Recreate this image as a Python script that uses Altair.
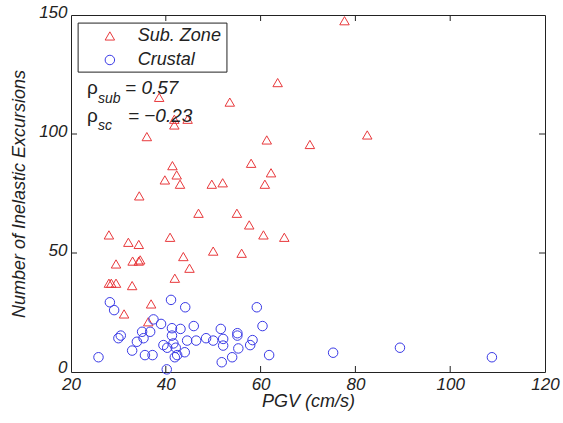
import altair as alt
import pandas as pd

# ---- data ----
sub_pgv = [77.7, 63.6, 38.6, 53.5, 41.8, 41.8, 44.6, 36.0, 61.3, 70.4, 82.5,
           41.4, 58.0, 42.3, 62.2, 39.8, 43.0, 49.7, 52.0, 60.9, 34.4,
           46.9, 55.0, 57.6, 60.6, 65.0, 28.0, 32.1, 34.3, 40.9, 50.0, 56.0,
           29.5, 33.0, 34.6, 34.3, 43.7, 45.0, 41.9, 28.0, 28.5, 29.5, 32.9,
           36.9, 31.2, 36.3]
sub_n = [147.6, 121.6, 115.4, 113.4, 106.2, 103.8, 106.2, 98.9, 97.5, 95.6, 99.6,
         86.7, 87.7, 82.8, 83.7, 80.7, 78.9, 78.9, 79.5, 78.9, 74.0,
         66.7, 66.7, 61.8, 57.6, 56.6, 57.6, 54.5, 53.6, 56.6, 50.8, 49.9,
         45.4, 46.6, 47.1, 46.6, 48.5, 43.6, 39.4, 37.3, 37.3, 37.3, 36.3,
         28.6, 24.4, 21.1]

cru_pgv = [28.2, 29.1, 41.1, 44.1, 59.2, 37.4, 39.0, 36.7, 35.0, 41.3, 43.1,
           45.9, 51.6, 60.4, 41.3, 30.5, 30.0, 33.9, 35.3, 44.5, 46.4, 48.5,
           50.0, 52.1, 52.1, 55.1, 55.1, 58.3, 57.8, 41.6, 39.5, 40.3, 42.1,
           44.0, 42.4, 41.9, 32.9, 35.6, 37.2, 25.8, 55.3, 54.0, 51.8, 61.8,
           40.2, 75.3, 89.4, 108.8]
cru_n = [29.3, 26.0, 30.3, 27.2, 27.2, 22.1, 20.2, 16.9, 16.9, 18.4, 18.1,
         19.3, 18.1, 19.3, 15.3, 15.3, 14.2, 12.7, 14.2, 13.2, 13.2, 14.2,
         13.2, 13.9, 11.1, 16.3, 15.3, 13.4, 11.3, 12.0, 11.3, 10.2, 10.2,
         8.3, 7.1, 6.2, 9.0, 7.1, 7.1, 6.2, 9.9, 6.2, 4.1, 7.1,
         1.1, 8.1, 10.2, 6.2]

groups = ["Sub. Zone", "Crustal"]
group_colors = ["#e8393c", "#3a3ae6"]
group_shapes = ["triangle-up", "circle"]
x_ticks = [20, 40, 60, 80, 100, 120]
y_ticks = [0, 50, 100, 150]
x_inner_ticks = [40, 60, 80, 100]
y_inner_ticks = [50, 100]

# legend box (in data units), symbol column and label column
legend_box_x = [21.5, 52.9]
legend_box_y = [126.0, 146.6]
legend_sym_x = 28.2
legend_lab_x = 34.1
legend_row_y = [141.2, 131.1]

# annotation texts (rho values), placed in data units
rho_main = ["ρ", "ρ"]
rho_main_x = [23.4, 23.4]
rho_main_y = [116.8, 105.0]
rho_sub = ["sub", "sc"]
rho_sub_x = [25.7, 25.7]
rho_sub_y = [113.0, 101.7]
rho_val = ["= 0.57", "= −0.23"]
rho_val_x = [31.4, 32.0]
rho_val_y = [116.8, 105.0]

# ---- tables ----
df = pd.DataFrame({
    "pgv": sub_pgv + cru_pgv,
    "n": sub_n + cru_n,
    "group": [groups[0]] * len(sub_pgv) + [groups[1]] * len(cru_pgv),
})

W, H = 474, 357
FONT = "Liberation Sans"

xenc = alt.X("pgv:Q", title="PGV (cm/s)",
             scale=alt.Scale(domain=[20, 120], nice=False, zero=False),
             axis=alt.Axis(values=x_ticks, grid=False, domain=False, ticks=False,
                           labelFlush=False, labelOverlap=False,
                           labelPadding=4, titlePadding=0, format="d"))
yenc = alt.Y("n:Q", title="Number of Inelastic Excursions",
             scale=alt.Scale(domain=[0, 150], nice=False, zero=False),
             axis=alt.Axis(values=y_ticks, grid=False, domain=False, ticks=False,
                           labelFlush=False, labelOverlap=False,
                           labelOffset={"condition": {"test": "datum.value == 0", "value": 0},
                                        "value": -3},
                           labelBaseline={"condition": {"test": "datum.value == 0", "value": "alphabetic"},
                                          "value": "middle"},
                           labelPadding=4, titlePadding=10, format="d"))
cenc = alt.Color("group:N", scale=alt.Scale(domain=groups, range=group_colors), legend=None)
senc = alt.Shape("group:N", scale=alt.Scale(domain=groups, range=group_shapes), legend=None)

points = alt.Chart(df).mark_point(filled=False, strokeWidth=1, size=90, opacity=1).encode(
    x=xenc, y=yenc, color=cenc, shape=senc)

xt = pd.DataFrame({"pgv": x_inner_ticks})
yt = pd.DataFrame({"n": y_inner_ticks})
tick_color = "#222222"
bottom_ticks = alt.Chart(xt).mark_rule(color=tick_color).encode(
    x=xenc, y=alt.value(H), y2=alt.value(H - 6))
top_ticks = alt.Chart(xt).mark_rule(color=tick_color).encode(
    x=xenc, y=alt.value(0), y2=alt.value(6))
left_ticks = alt.Chart(yt).mark_rule(color=tick_color).encode(
    y=yenc, x=alt.value(0), x2=alt.value(6))
right_ticks = alt.Chart(yt).mark_rule(color=tick_color).encode(
    y=yenc, x=alt.value(W), x2=alt.value(W - 6))

# legend drawn as marks
leg_box = alt.Chart(pd.DataFrame({
    "pgv": [legend_box_x[0]], "pgv2": [legend_box_x[1]],
    "n": [legend_box_y[0]], "n2": [legend_box_y[1]]})).mark_rect(
    fill="white", stroke="#222222", strokeWidth=1).encode(
    x=xenc, x2="pgv2:Q", y=yenc, y2="n2:Q")
leg_df = pd.DataFrame({"group": groups, "n": legend_row_y,
                       "pgv": [legend_sym_x] * 2, "lx": [legend_lab_x] * 2})
leg_sym = alt.Chart(leg_df).mark_point(filled=False, strokeWidth=1, size=90, opacity=1).encode(
    x=xenc, y=yenc, color=cenc, shape=senc)
leg_lab = alt.Chart(leg_df).mark_text(
    align="left", baseline="middle", font=FONT, fontSize=18, fontStyle="italic", color="#222").encode(
    x=alt.X("lx:Q", scale=alt.Scale(domain=[20, 120], nice=False, zero=False)),
    y=yenc, text="group:N")

ann_main = alt.Chart(pd.DataFrame({"pgv": rho_main_x, "n": rho_main_y, "t": rho_main})).mark_text(
    align="left", baseline="alphabetic", font=FONT, fontSize=19, color="#222").encode(
    x=xenc, y=yenc, text="t:N")
ann_sub = alt.Chart(pd.DataFrame({"pgv": rho_sub_x, "n": rho_sub_y, "t": rho_sub})).mark_text(
    align="left", baseline="alphabetic", font=FONT, fontSize=14, fontStyle="italic", color="#222").encode(
    x=xenc, y=yenc, text="t:N")
ann_val = alt.Chart(pd.DataFrame({"pgv": rho_val_x, "n": rho_val_y, "t": rho_val})).mark_text(
    align="left", baseline="alphabetic", font=FONT, fontSize=19, fontStyle="italic", color="#222").encode(
    x=xenc, y=yenc, text="t:N")

chart = alt.layer(
    points, bottom_ticks, top_ticks, left_ticks, right_ticks,
    leg_box, leg_sym, leg_lab, ann_main, ann_sub, ann_val
).properties(
    width=W, height=H,
    autosize=alt.AutoSizeParams(type="none"),
    padding={"left": 71, "top": 15, "right": 18, "bottom": 51},
).configure_view(
    stroke="#222222", strokeWidth=1
).configure_axis(
    labelFont=FONT, labelFontSize=17, labelFontStyle="italic", labelColor="#222",
    titleFont=FONT, titleFontSize=18, titleFontStyle="italic", titleFontWeight="normal",
    titleColor="#222",
)

chart.save("out.html", embed_options={"renderer": "svg", "actions": False})
